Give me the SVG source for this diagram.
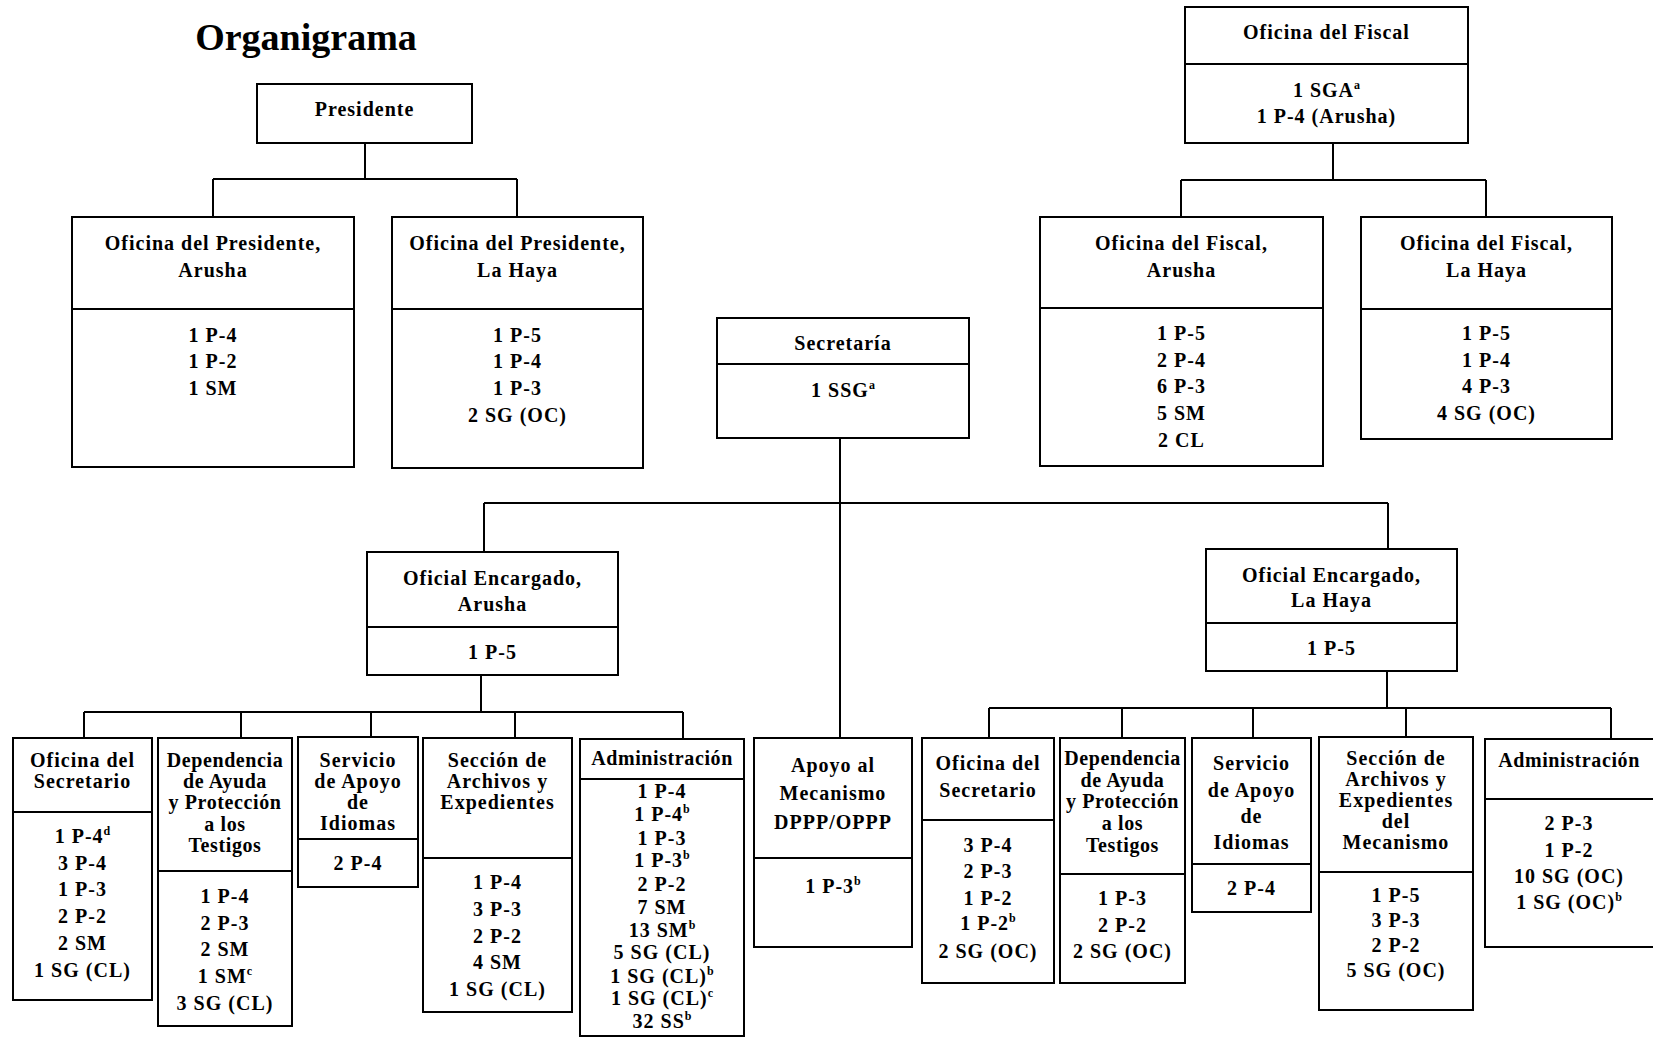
<svg xmlns="http://www.w3.org/2000/svg" width="1653" height="1037" viewBox="0 0 1653 1037">
<style>
.b{fill:#fff;stroke:#000;stroke-width:2}
.d{stroke:#000;stroke-width:2}
.c{fill:none;stroke:#000;stroke-width:2}
text{font-family:"Liberation Serif","Times New Roman",serif;font-weight:bold;font-size:20px;letter-spacing:1px;text-anchor:middle;fill:#000}
.tt{font-size:38px;letter-spacing:0}
.n{letter-spacing:0.6px}
.s{font-size:12px;letter-spacing:0}
</style>
<rect width="1653" height="1037" fill="#fff"/>
<text class="tt" x="306" y="50">Organigrama</text>

<g id="connectors">
<path class="c" d="M365 143V179M213 179H517M213 179V217M517 179V217"/>
<path class="c" d="M1333 143V180M1181 180H1486M1181 180V217M1486 180V217"/>
<path class="c" d="M840 438V738M484 503H1388M484 503V552M1388 503V549"/>
<path class="c" d="M481 675V712M84 712H683M84 712V738M241 712V738M371 712V738M515 712V738M683 712V739"/>
<path class="c" d="M1387 671V708M989 708H1611M989 708V738M1122 708V738M1253 708V738M1406 708V737M1611 708V739"/>
</g>

<g id="presidente">
<rect class="b" x="257" y="84" width="215" height="59"/>
<text x="364.5" y="116">Presidente</text>
</g>

<g id="pres-arusha">
<rect class="b" x="72" y="217" width="282" height="250"/>
<line class="d" x1="72" y1="309" x2="354" y2="309"/>
<text x="213" y="250">Oficina del Presidente,</text>
<text x="213" y="277">Arusha</text>
<text x="213" y="342">1 P-4</text>
<text x="213" y="368">1 P-2</text>
<text x="213" y="395">1 SM</text>
</g>

<g id="pres-lahaya">
<rect class="b" x="392" y="217" width="251" height="251"/>
<line class="d" x1="392" y1="309" x2="643" y2="309"/>
<text x="517.5" y="250">Oficina del Presidente,</text>
<text x="517.5" y="277">La Haya</text>
<text x="517.5" y="342">1 P-5</text>
<text x="517.5" y="368">1 P-4</text>
<text x="517.5" y="395">1 P-3</text>
<text x="517.5" y="422">2 SG (OC)</text>
</g>

<g id="fiscal">
<rect class="b" x="1185" y="7" width="283" height="136"/>
<line class="d" x1="1185" y1="64" x2="1468" y2="64"/>
<text x="1326.5" y="39">Oficina del Fiscal</text>
<text x="1326.5" y="97">1 SGA<tspan class="s" dy="-8">a</tspan></text>
<text x="1326.5" y="123">1 P-4 (Arusha)</text>
</g>

<g id="fiscal-arusha">
<rect class="b" x="1040" y="217" width="283" height="249"/>
<line class="d" x1="1040" y1="308" x2="1323" y2="308"/>
<text x="1181.5" y="250">Oficina del Fiscal,</text>
<text x="1181.5" y="277">Arusha</text>
<text x="1181.5" y="340">1 P-5</text>
<text x="1181.5" y="367">2 P-4</text>
<text x="1181.5" y="393">6 P-3</text>
<text x="1181.5" y="420">5 SM</text>
<text x="1181.5" y="447">2 CL</text>
</g>

<g id="fiscal-lahaya">
<rect class="b" x="1361" y="217" width="251" height="222"/>
<line class="d" x1="1361" y1="309" x2="1612" y2="309"/>
<text x="1486.5" y="250">Oficina del Fiscal,</text>
<text x="1486.5" y="277">La Haya</text>
<text x="1486.5" y="340">1 P-5</text>
<text x="1486.5" y="367">1 P-4</text>
<text x="1486.5" y="393">4 P-3</text>
<text x="1486.5" y="420">4 SG (OC)</text>
</g>

<g id="secretaria">
<rect class="b" x="717" y="318" width="252" height="120"/>
<line class="d" x1="717" y1="364" x2="969" y2="364"/>
<text x="843" y="350">Secretaría</text>
<text x="843" y="397">1 SSG<tspan class="s" dy="-8">a</tspan></text>
</g>

<g id="oe-arusha">
<rect class="b" x="367" y="552" width="251" height="123"/>
<line class="d" x1="367" y1="627" x2="618" y2="627"/>
<text x="492.5" y="585">Oficial Encargado,</text>
<text x="492.5" y="611">Arusha</text>
<text x="492.5" y="659">1 P-5</text>
</g>

<g id="oe-lahaya">
<rect class="b" x="1206" y="549" width="251" height="122"/>
<line class="d" x1="1206" y1="623" x2="1457" y2="623"/>
<text x="1331.5" y="582">Oficial Encargado,</text>
<text x="1331.5" y="607">La Haya</text>
<text x="1331.5" y="655">1 P-5</text>
</g>

<g id="a-secretario">
<rect class="b" x="13" y="738" width="139" height="262"/>
<line class="d" x1="13" y1="812" x2="152" y2="812"/>
<text x="82.5" y="767">Oficina del</text>
<text x="82.5" y="788">Secretario</text>
<text x="82.5" y="843">1 P-4<tspan class="s" dy="-8">d</tspan></text>
<text x="82.5" y="870">3 P-4</text>
<text x="82.5" y="896">1 P-3</text>
<text x="82.5" y="923">2 P-2</text>
<text x="82.5" y="950">2 SM</text>
<text x="82.5" y="977">1 SG (CL)</text>
</g>

<g id="a-testigos">
<rect class="b" x="158" y="738" width="134" height="288"/>
<line class="d" x1="158" y1="871" x2="292" y2="871"/>
<text class="n" x="225" y="767">Dependencia</text>
<text class="n" x="225" y="788">de Ayuda</text>
<text class="n" x="225" y="809">y Protección</text>
<text class="n" x="225" y="831">a los</text>
<text class="n" x="225" y="852">Testigos</text>
<text x="225" y="903">1 P-4</text>
<text x="225" y="930">2 P-3</text>
<text x="225" y="956">2 SM</text>
<text x="225" y="983">1 SM<tspan class="s" dy="-8">c</tspan></text>
<text x="225" y="1010">3 SG (CL)</text>
</g>

<g id="a-idiomas">
<rect class="b" x="298" y="737" width="120" height="150"/>
<line class="d" x1="298" y1="839" x2="418" y2="839"/>
<text x="358" y="767">Servicio</text>
<text x="358" y="788">de Apoyo</text>
<text x="358" y="809">de</text>
<text x="358" y="830">Idiomas</text>
<text x="358" y="870">2 P-4</text>
</g>

<g id="a-archivos">
<rect class="b" x="423" y="738" width="149" height="274"/>
<line class="d" x1="423" y1="858" x2="572" y2="858"/>
<text x="497.5" y="767">Sección de</text>
<text x="497.5" y="788">Archivos y</text>
<text x="497.5" y="809">Expedientes</text>
<text x="497.5" y="889">1 P-4</text>
<text x="497.5" y="916">3 P-3</text>
<text x="497.5" y="943">2 P-2</text>
<text x="497.5" y="969">4 SM</text>
<text x="497.5" y="996">1 SG (CL)</text>
</g>

<g id="a-administracion">
<rect class="b" x="580" y="739" width="164" height="297"/>
<line class="d" x1="580" y1="779" x2="744" y2="779"/>
<text class="n" x="662" y="765">Administración</text>
<text x="662" y="798">1 P-4</text>
<text x="662" y="821">1 P-4<tspan class="s" dy="-8">b</tspan></text>
<text x="662" y="845">1 P-3</text>
<text x="662" y="867">1 P-3<tspan class="s" dy="-8">b</tspan></text>
<text x="662" y="891">2 P-2</text>
<text x="662" y="914">7 SM</text>
<text x="662" y="937">13 SM<tspan class="s" dy="-8">b</tspan></text>
<text x="662" y="959">5 SG (CL)</text>
<text x="662" y="983">1 SG (CL)<tspan class="s" dy="-8">b</tspan></text>
<text x="662" y="1005">1 SG (CL)<tspan class="s" dy="-8">c</tspan></text>
<text x="662" y="1028">32 SS<tspan class="s" dy="-8">b</tspan></text>
</g>

<g id="apoyo-mecanismo">
<rect class="b" x="754" y="738" width="158" height="209"/>
<line class="d" x1="754" y1="858" x2="912" y2="858"/>
<text x="833" y="772">Apoyo al</text>
<text x="833" y="800">Mecanismo</text>
<text x="833" y="829">DPPP/OPPP</text>
<text x="833" y="893">1 P-3<tspan class="s" dy="-8">b</tspan></text>
</g>

<g id="h-secretario">
<rect class="b" x="922" y="738" width="132" height="245"/>
<line class="d" x1="922" y1="820" x2="1054" y2="820"/>
<text x="988" y="770">Oficina del</text>
<text x="988" y="797">Secretario</text>
<text x="988" y="852">3 P-4</text>
<text x="988" y="878">2 P-3</text>
<text x="988" y="905">1 P-2</text>
<text x="988" y="930">1 P-2<tspan class="s" dy="-8">b</tspan></text>
<text x="988" y="958">2 SG (OC)</text>
</g>

<g id="h-testigos">
<rect class="b" x="1060" y="738" width="125" height="245"/>
<line class="d" x1="1060" y1="874" x2="1185" y2="874"/>
<text class="n" x="1122.5" y="765">Dependencia</text>
<text class="n" x="1122.5" y="787">de Ayuda</text>
<text class="n" x="1122.5" y="808">y Protección</text>
<text class="n" x="1122.5" y="830">a los</text>
<text class="n" x="1122.5" y="852">Testigos</text>
<text x="1122.5" y="905">1 P-3</text>
<text x="1122.5" y="932">2 P-2</text>
<text x="1122.5" y="958">2 SG (OC)</text>
</g>

<g id="h-idiomas">
<rect class="b" x="1192" y="738" width="119" height="174"/>
<line class="d" x1="1192" y1="864" x2="1311" y2="864"/>
<text x="1251.5" y="770">Servicio</text>
<text x="1251.5" y="797">de Apoyo</text>
<text x="1251.5" y="823">de</text>
<text x="1251.5" y="849">Idiomas</text>
<text x="1251.5" y="895">2 P-4</text>
</g>

<g id="h-archivos">
<rect class="b" x="1319" y="737" width="154" height="273"/>
<line class="d" x1="1319" y1="872" x2="1473" y2="872"/>
<text x="1396" y="765">Sección de</text>
<text x="1396" y="786">Archivos y</text>
<text x="1396" y="807">Expedientes</text>
<text x="1396" y="828">del</text>
<text x="1396" y="849">Mecanismo</text>
<text x="1396" y="902">1 P-5</text>
<text x="1396" y="927">3 P-3</text>
<text x="1396" y="952">2 P-2</text>
<text x="1396" y="977">5 SG (OC)</text>
</g>

<g id="h-administracion">
<rect class="b" x="1485" y="739" width="180" height="208"/>
<line class="d" x1="1485" y1="799" x2="1665" y2="799"/>
<text class="n" x="1569" y="767">Administración</text>
<text x="1569" y="830">2 P-3</text>
<text x="1569" y="857">1 P-2</text>
<text x="1569" y="883">10 SG (OC)</text>
<text x="1569" y="909">1 SG (OC)<tspan class="s" dy="-8">b</tspan></text>
</g>
</svg>
